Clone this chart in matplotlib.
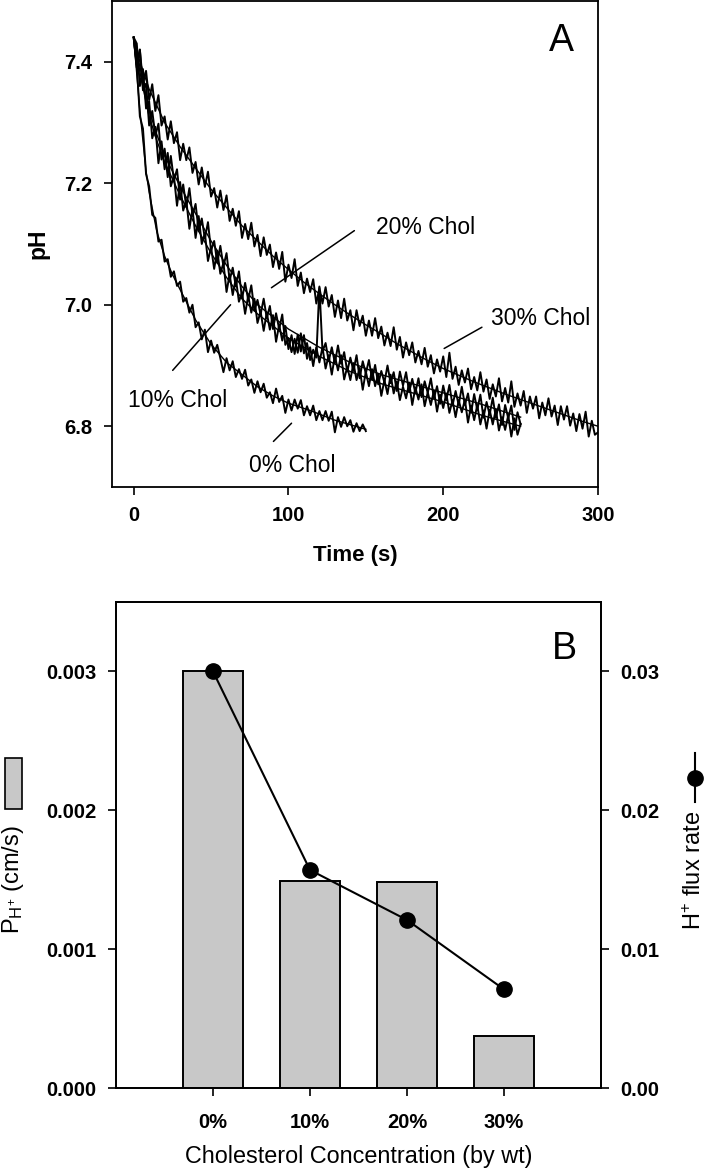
import numpy as np
import matplotlib
matplotlib.use('Agg')
import matplotlib.pyplot as plt
from matplotlib.patches import Rectangle
from matplotlib.lines import Line2D

plt.rcParams['font.family'] = ['Liberation Sans', 'DejaVu Sans']
plt.rcParams['mathtext.fontset'] = 'custom'
plt.rcParams['mathtext.rm'] = 'Liberation Sans'
plt.rcParams['mathtext.it'] = 'Liberation Sans:italic'
plt.rcParams['mathtext.bf'] = 'Liberation Sans:bold'

# ---- Panel A: pH recordings (sampled every 2 s) ----
t_0 = np.arange(0, 151, 2)
t_10 = np.arange(0, 251, 2)
t_20 = np.arange(0, 251, 2)
t_30 = np.arange(0, 301, 2)

ph_0 = [7.44, 7.395, 7.31, 7.29, 7.215, 7.195, 7.148, 7.143, 7.104, 7.107,
        7.071, 7.075, 7.046, 7.055, 7.031, 7.038, 7.005, 7.011, 6.987, 7.000,
        6.963, 6.971, 6.943, 6.959, 6.922, 6.941, 6.921, 6.934, 6.912, 6.889,
        6.912, 6.892, 6.907, 6.881, 6.894, 6.878, 6.893, 6.867, 6.877, 6.855,
        6.874, 6.856, 6.870, 6.847, 6.856, 6.838, 6.862, 6.840, 6.850, 6.822,
        6.844, 6.826, 6.844, 6.829, 6.843, 6.818, 6.833, 6.818, 6.834, 6.810,
        6.825, 6.810, 6.825, 6.809, 6.824, 6.790, 6.815, 6.799, 6.815, 6.800,
        6.810, 6.791, 6.805, 6.792, 6.803, 6.792]

ph_10 = [7.44, 7.43, 7.36, 7.388, 7.323, 7.335, 7.274, 7.293, 7.233, 7.269,
         7.223, 7.25, 7.195, 7.212, 7.163, 7.202, 7.155, 7.172, 7.125, 7.158,
         7.11, 7.146, 7.10, 7.118, 7.072, 7.095, 7.059, 7.089, 7.051, 7.069,
         7.021, 7.05, 7.016, 7.044, 7.005, 7.02, 6.985, 7.015, 6.987, 7.01,
         6.97, 6.989, 6.957, 6.987, 6.959, 6.983, 6.939, 6.967, 6.941, 6.965,
         6.927, 6.95, 6.919, 6.951, 6.923, 6.95, 6.911, 6.93, 6.899, 6.93,
         6.905, 6.93, 6.895, 6.917, 6.885, 6.916, 6.892, 6.917, 6.877, 6.898,
         6.876, 6.904, 6.876, 6.896, 6.86, 6.89, 6.866, 6.894, 6.866, 6.886,
         6.85, 6.876, 6.853, 6.885, 6.854, 6.874, 6.843, 6.865, 6.846, 6.872,
         6.835, 6.864, 6.844, 6.869, 6.833, 6.856, 6.835, 6.859, 6.824, 6.852,
         6.83, 6.854, 6.822, 6.843, 6.815, 6.843, 6.823, 6.844, 6.806, 6.834,
         6.81, 6.835, 6.803, 6.826, 6.796, 6.827, 6.803, 6.828, 6.793, 6.815,
         6.794, 6.818, 6.783, 6.813, 6.786, 6.804]

ph_20 = [7.44, 7.395, 7.42, 7.353, 7.364, 7.295, 7.319, 7.278, 7.298, 7.239,
         7.257, 7.21, 7.245, 7.205, 7.223, 7.173, 7.198, 7.161, 7.192, 7.147,
         7.166, 7.121, 7.142, 7.109, 7.136, 7.089, 7.105, 7.069, 7.097, 7.063,
         7.085, 7.04, 7.061, 7.03, 7.055, 7.01, 7.036, 7.008, 7.032, 6.99,
         7.008, 6.984, 7.01, 6.978, 6.998, 6.96, 6.986, 6.96, 6.984, 6.934,
         6.945, 6.922, 6.944, 6.921, 6.953, 6.92, 6.937, 6.909, 6.926, 6.913,
         7.03, 6.923, 6.937, 6.907, 6.93, 6.904, 6.933, 6.903, 6.922, 6.89,
         6.913, 6.891, 6.917, 6.879, 6.907, 6.887, 6.909, 6.877, 6.901, 6.869,
         6.891, 6.872, 6.9, 6.871, 6.889, 6.858, 6.89, 6.867, 6.889, 6.856,
         6.878, 6.855, 6.879, 6.848, 6.874, 6.855, 6.879, 6.846, 6.866, 6.837,
         6.867, 6.843, 6.868, 6.834, 6.858, 6.835, 6.865, 6.835, 6.854, 6.822,
         6.853, 6.827, 6.852, 6.814, 6.84, 6.819, 6.847, 6.814, 6.836, 6.802,
         6.835, 6.813, 6.834, 6.794, 6.823, 6.803]

ph_30 = [7.44, 7.39, 7.42, 7.365, 7.385, 7.337, 7.363, 7.319, 7.345, 7.295,
         7.31, 7.272, 7.302, 7.266, 7.284, 7.238, 7.265, 7.238, 7.259, 7.217,
         7.235, 7.198, 7.226, 7.194, 7.219, 7.178, 7.192, 7.16, 7.188, 7.156,
         7.18, 7.138, 7.158, 7.13, 7.154, 7.11, 7.133, 7.108, 7.135, 7.096,
         7.115, 7.08, 7.111, 7.082, 7.099, 7.062, 7.086, 7.059, 7.087, 7.038,
         7.066, 7.044, 7.075, 7.031, 7.053, 7.019, 7.043, 7.021, 7.042, 7.002,
         7.028, 7.002, 7.029, 6.997, 7.016, 6.98, 7.007, 6.978, 7.01, 6.974,
         6.991, 6.958, 6.991, 6.965, 6.982, 6.949, 6.974, 6.949, 6.978, 6.945,
         6.964, 6.933, 6.954, 6.932, 6.963, 6.926, 6.947, 6.913, 6.938, 6.917,
         6.938, 6.905, 6.924, 6.902, 6.929, 6.898, 6.917, 6.887, 6.91, 6.89,
         6.915, 6.881, 6.921, 6.878, 6.898, 6.868, 6.892, 6.872, 6.895, 6.861,
         6.881, 6.859, 6.889, 6.857, 6.877, 6.845, 6.869, 6.849, 6.879, 6.841,
         6.863, 6.839, 6.874, 6.832, 6.854, 6.834, 6.858, 6.822, 6.849, 6.829,
         6.849, 6.813, 6.839, 6.818, 6.846, 6.816, 6.834, 6.802, 6.833, 6.811,
         6.833, 6.801, 6.821, 6.792, 6.82, 6.796, 6.824, 6.783, 6.809, 6.786,
         6.79]

# fitted curves
fit_t_0 = [0, 2, 4, 6, 8, 10, 15, 20, 25, 30, 35, 40, 45, 50, 60, 70, 80, 90, 100, 115, 130, 150]
fit_ph_0 = [7.44, 7.38, 7.32, 7.27, 7.22, 7.185, 7.12, 7.08, 7.05, 7.025, 7.0, 6.975,
            6.955, 6.935, 6.905, 6.885, 6.865, 6.85, 6.838, 6.825, 6.81, 6.795]
fit_t_1020 = [0, 5, 10, 15, 20, 30, 40, 50, 60, 70, 80, 90, 100, 120, 140, 160, 180, 200, 225, 250]
fit_ph_10 = [7.44, 7.37, 7.31, 7.27, 7.235, 7.18, 7.13, 7.085, 7.045, 7.01, 6.985, 6.965,
             6.945, 6.915, 6.89, 6.87, 6.855, 6.84, 6.818, 6.80]
fit_ph_20 = [7.44, 7.38, 7.32, 7.28, 7.245, 7.195, 7.15, 7.105, 7.065, 7.03, 7.0, 6.98,
             6.96, 6.93, 6.905, 6.885, 6.87, 6.855, 6.836, 6.815]
fit_t_30 = [0, 4, 10, 20, 30, 40, 50, 60, 70, 80, 90, 100, 110, 120, 130, 140, 150, 160,
            170, 180, 190, 200, 210, 220, 230, 240, 250, 260, 270, 280, 290, 300]
fit_ph_30 = [7.44, 7.40, 7.355, 7.30, 7.26, 7.225, 7.19, 7.16, 7.13, 7.105, 7.08, 7.058,
             7.037, 7.018, 7.0, 6.983, 6.967, 6.952, 6.936, 6.922, 6.908, 6.895, 6.884,
             6.873, 6.863, 6.853, 6.844, 6.835, 6.826, 6.817, 6.808, 6.80]

# ---- Panel B ----
conc = ['0%', '10%', '20%', '30%']
perm = [0.0030, 0.00149, 0.00148, 0.000375]
flux = [0.0300, 0.0157, 0.0121, 0.0071]

fig = plt.figure(figsize=(7.05, 11.7), dpi=100)
W, H = 705, 1170
tick_fs = 14.5

axA = fig.add_axes([112 / W, 1 - 487 / H, 486 / W, 486 / H])
for tt, yy in [(t_0, ph_0), (t_10, ph_10), (t_20, ph_20), (t_30, ph_30)]:
    axA.plot(tt, yy, color='black', lw=1.4)
for tt, yy in [(fit_t_0, fit_ph_0), (fit_t_1020, fit_ph_10), (fit_t_1020, fit_ph_20), (fit_t_30, fit_ph_30)]:
    axA.plot(tt, yy, color='black', lw=1.0)

axA.set_xlim(-14, 300)
axA.set_ylim(6.7, 7.5)
axA.set_xticks([0, 100, 200, 300])
axA.set_yticks([6.8, 7.0, 7.2, 7.4])
axA.set_yticklabels(['6.8', '7.0', '7.2', '7.4'])
axA.tick_params(direction='out', length=6, width=1.2, labelsize=tick_fs, pad=8)
for lab in axA.get_xticklabels() + axA.get_yticklabels():
    lab.set_fontweight('bold')
for sp in axA.spines.values():
    sp.set_linewidth(1.3)

chol_kw = dict(fontsize=16.5, ha='left', va='baseline')
axA.text(156.8, 7.117, '20% Chol', **chol_kw)
axA.text(231, 6.966, '30% Chol', **chol_kw)
axA.text(-3.9, 6.831, '10% Chol', **chol_kw)
axA.text(74.8, 6.724, '0% Chol', **chol_kw)
ptr = dict(arrowstyle='-', lw=1.1, color='black', shrinkA=0, shrinkB=0)
axA.annotate('', xy=(89, 7.028), xytext=(142.6, 7.122), arrowprops=ptr)
axA.annotate('', xy=(200.6, 6.928), xytext=(225, 6.963), arrowprops=ptr)
axA.annotate('', xy=(62.6, 7.0), xytext=(25.2, 6.892), arrowprops=ptr)
axA.annotate('', xy=(102, 6.805), xytext=(90.3, 6.775), arrowprops=ptr)
axA.text(0.925, 0.898, 'A', transform=axA.transAxes, fontsize=27, ha='center', va='baseline')

fig.text(38 / W, 1 - 244 / H, 'pH', rotation=90, fontsize=16.5, fontweight='bold', ha='center', va='center')
fig.text(355 / W, 1 - 555 / H, 'Time (s)', fontsize=16, fontweight='bold', ha='center', va='center')

# Panel B
axB = fig.add_axes([116 / W, 1 - 1088 / H, 485 / W, 486 / H])
x = np.arange(len(conc))
axB.bar(x, perm, width=0.61, color='#c8c8c8', edgecolor='black', linewidth=1.4, zorder=2)
axB.set_xlim(-1, 4)
axB.set_ylim(0, 0.0035)
axB.set_xticks(x)
axB.set_xticklabels(conc)
axB.set_yticks([0.0, 0.001, 0.002, 0.003])
axB.set_yticklabels(['0.000', '0.001', '0.002', '0.003'])
axB.tick_params(direction='out', length=6, width=1.2, labelsize=tick_fs, pad=8)
axB.tick_params(axis='x', pad=12)

axB2 = axB.twinx()
axB2.plot(x, flux, '-o', color='black', lw=1.5, ms=11)
axB2.set_ylim(0, 0.035)
axB2.set_yticks([0.0, 0.01, 0.02, 0.03])
axB2.set_yticklabels(['0.00', '0.01', '0.02', '0.03'])
axB2.tick_params(direction='out', length=6, width=1.2, labelsize=tick_fs, pad=8)
for lab in axB.get_xticklabels() + axB.get_yticklabels() + axB2.get_yticklabels():
    lab.set_fontweight('bold')
for ax in (axB, axB2):
    for sp in ax.spines.values():
        sp.set_linewidth(1.3)
axB.text(0.925, 0.883, 'B', transform=axB.transAxes, fontsize=27, ha='center', va='baseline')

fig.text(359 / W, 1 - 1157 / H, 'Cholesterol Concentration (by wt)', fontsize=16.8,
         ha='center', va='center')
fig.text(13 / W, 1 - 880 / H, r'P$_{\mathrm{H}^{+}}$ (cm/s)', rotation=90, fontsize=17,
         ha='center', va='center')
fig.patches.append(Rectangle((5 / W, 1 - 809 / H), 17 / W, 51 / H, transform=fig.transFigure,
                             facecolor='#c8c8c8', edgecolor='black', linewidth=1.2))
fig.text(695 / W, 1 - 870 / H, r'H$^{+}$ flux rate', rotation=90, fontsize=17,
         ha='center', va='center')
fig.lines.append(Line2D([695 / W, 695 / W], [1 - 753 / H, 1 - 802 / H], transform=fig.transFigure,
                        color='black', lw=1.5))
fig.lines.append(Line2D([695 / W], [1 - 778 / H], transform=fig.transFigure, marker='o',
                        color='black', ms=11))

fig.savefig('out.png', dpi=100)
